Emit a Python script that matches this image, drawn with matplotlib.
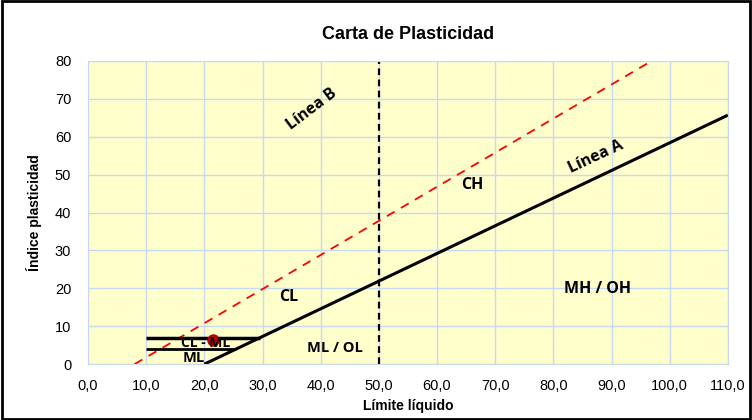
import numpy as np
import matplotlib
matplotlib.use("Agg")
import matplotlib.pyplot as plt
from matplotlib.patches import Rectangle

# Data
line_a_ll = [20.0, 110.0]
line_a_pi = [0.0, 65.7]
line_b_ll = [8.0, 96.9]
line_b_pi = [0.0, 80.0]
vline_ll = [50.0, 50.0]
vline_pi = [0.0, 80.0]
h7_ll = [10.0, 29.6]
h7_pi = [7.0, 7.0]
h4_ll = [10.0, 25.5]
h4_pi = [4.0, 4.0]
sample_ll = [21.5]
sample_pi = [6.4]
x_ticks = [0, 10, 20, 30, 40, 50, 60, 70, 80, 90, 100, 110]
y_ticks = [0, 10, 20, 30, 40, 50, 60, 70, 80]
zone_labels = ["CL - ML", "ML", "CL", "ML / OL", "CH", "MH / OH"]
zone_x = [20.2, 18.2, 34.5, 42.5, 66.0, 87.6]
zone_y = [5.7, 1.5, 17.7, 4.3, 47.3, 19.8]

fig = plt.figure(figsize=(7.52, 4.2), dpi=100)
ax = fig.add_axes([0.117, 0.133, 0.851, 0.722])
ax.set_facecolor("#ffffcc")
ax.set_xlim(0, 110)
ax.set_ylim(0, 80)
ax.set_xticks(x_ticks)
ax.set_yticks(y_ticks)
ax.set_xticklabels([f"{v:.1f}".replace(".", ",") for v in x_ticks])
ax.grid(True, color="#c6d9f1", linewidth=1.0)
ax.set_axisbelow(True)
for s in ax.spines.values():
    s.set_color("#c6d9f1")
ax.tick_params(axis="x", length=0, labelsize=10.5, pad=11)
ax.tick_params(axis="y", length=0, labelsize=10.5, pad=12)
for lab in ax.get_xticklabels() + ax.get_yticklabels():
    lab.set_fontfamily("Liberation Sans")

ax.plot(line_a_ll, line_a_pi, color="black", lw=2.2, solid_capstyle="butt")
ax.plot(line_b_ll, line_b_pi, color="red", lw=1.3, ls=(0, (5, 4)))
ax.plot(vline_ll, vline_pi, color="black", lw=1.6, ls=(0, (3, 2)))
ax.plot(h7_ll, h7_pi, color="black", lw=2.5, solid_capstyle="butt")
ax.plot(h4_ll, h4_pi, color="black", lw=2.0, solid_capstyle="butt")
ax.plot(sample_ll, sample_pi, "o", color="#c00000", ms=8, zorder=5)

zone_sizes = [10, 10.5, 11.5, 10.5, 11.5, 11.5]
for t, x, y, fs in zip(zone_labels, zone_x, zone_y, zone_sizes):
    ax.text(x, y, t, ha="center", va="center", fontsize=fs, fontweight="bold",
            family="Open Sans", zorder=6)

ax.text(87.3, 54.6, "Línea A", ha="center", va="center", rotation=25,
        fontsize=11.5, fontweight="bold", family="Open Sans")
ax.text(38.5, 67.3, "Línea B", ha="center", va="center", rotation=37,
        fontsize=11.5, fontweight="bold", family="Open Sans")

ax.set_title("Carta de Plasticidad", fontsize=13, fontweight="bold",
             family="Liberation Sans", pad=16)
ax.set_xlabel("Límite líquido", fontsize=10, fontweight="bold",
              family="Liberation Sans", labelpad=4)
ax.set_ylabel("Índice plasticidad", fontsize=10, fontweight="bold",
              family="Liberation Sans", labelpad=9)

fig.patches.append(Rectangle((0.002, 0.003), 0.996, 0.994, transform=fig.transFigure,
                             fill=False, edgecolor="black", lw=2))
fig.savefig("out.png", dpi=100)
